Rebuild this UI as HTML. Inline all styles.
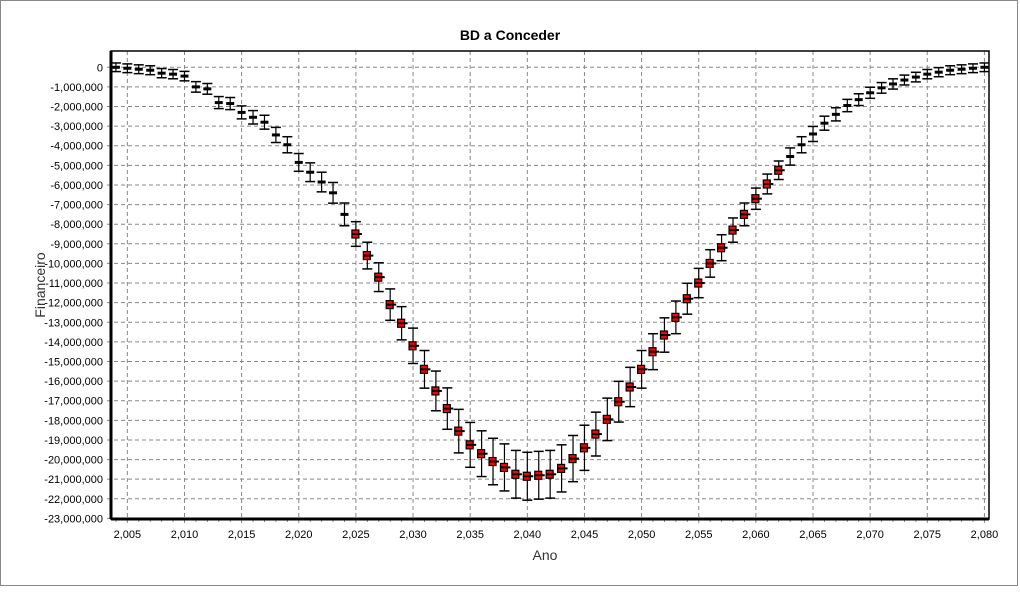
<!DOCTYPE html>
<html><head><meta charset="utf-8"><style>
html,body{margin:0;padding:0;background:#fff;}
body{width:1020px;height:588px;overflow:hidden;font-family:"Liberation Sans",sans-serif;}
</style></head><body>
<svg id="chart" width="1020" height="588" xmlns="http://www.w3.org/2000/svg" font-family="Liberation Sans, sans-serif">
<rect x="0.5" y="0.5" width="1017" height="585" fill="#fff" stroke="#888"/>
<text x="510" y="40" text-anchor="middle" font-size="14" font-weight="bold">BD a Conceder</text>
<text x="545" y="560" text-anchor="middle" font-size="14" fill="#333">Ano</text>
<text transform="translate(45,285) rotate(-90)" text-anchor="middle" font-size="14" fill="#333">Financeiro</text>
<g id="grid"></g>
<g id="marks"></g>
<rect x="111" y="51" width="878" height="468" fill="none" stroke="#000" stroke-width="1.5"/>
<line x1="111" y1="519" x2="989" y2="519" stroke="#000" stroke-width="3"/>
<line x1="111" y1="51" x2="111" y2="519" stroke="#000" stroke-width="3"/>
</svg>
<script>
const years = [];
for (let y = 2004; y <= 2080; y++) years.push(y);
const values = [0,-0.05,-0.1,-0.15,-0.3,-0.35,-0.45,-1.0,-1.1,-1.8,-1.85,-2.3,-2.55,-2.8,-3.45,-3.95,-4.85,-5.35,-5.85,-6.4,-7.5,-8.5,-9.6,-10.7,-12.1,-13.05,-14.2,-15.4,-16.5,-17.4,-18.55,-19.25,-19.7,-20.1,-20.4,-20.75,-20.85,-20.8,-20.75,-20.45,-19.95,-19.4,-18.7,-17.95,-17.05,-16.3,-15.4,-14.5,-13.65,-12.75,-11.8,-11.0,-10.0,-9.2,-8.3,-7.5,-6.7,-5.95,-5.25,-4.55,-3.95,-3.4,-2.85,-2.4,-1.95,-1.65,-1.3,-1.05,-0.85,-0.65,-0.5,-0.35,-0.25,-0.15,-0.1,-0.05,0];
const xTicks = [2005,2010,2015,2020,2025,2030,2035,2040,2045,2050,2055,2060,2065,2070,2075,2080];
const yTicks = [0,-1,-2,-3,-4,-5,-6,-7,-8,-9,-10,-11,-12,-13,-14,-15,-16,-17,-18,-19,-20,-21,-22,-23];
const redRange = [2025, 2062];

const X0=111,X1=989,Y0=51,Y1=519, XMIN=2003.57, XMAX=2080.4, YMAX=0.83, YMIN=-23.03;
const sx = v => X0 + (v-XMIN)/(XMAX-XMIN)*(X1-X0);
const sy = v => Y0 + (YMAX-v)/(YMAX-YMIN)*(Y1-Y0);
const NS="http://www.w3.org/2000/svg";
const svg=document.getElementById('chart'), grid=document.getElementById('grid'), marks=document.getElementById('marks');
function mk(tag, attrs, parent){const e=document.createElementNS(NS,tag);for(const k in attrs)e.setAttribute(k,attrs[k]);parent.appendChild(e);return e;}
const fmt = n => n===0 ? "0" : "-" + (Math.abs(n)*1000000).toLocaleString('en-US');

xTicks.forEach(t=>{
  const x=sx(t);
  const l=mk('line',{x1:x,y1:Y0,x2:x,y2:Y1+4,stroke:'#888','stroke-dasharray':'4,3'},grid);
  
  
  const tx=mk('text',{x:x,y:538,'text-anchor':'middle','font-size':'11'},svg);
  tx.textContent=t.toLocaleString('en-US');
  
  
});
for(let t=2004;t<=2080;t++){ if(t%5){ const x=sx(t); mk('line',{x1:x,y1:Y1,x2:x,y2:Y1+3,stroke:'#888'},grid);} }
yTicks.forEach(t=>{
  const y=sy(t);
  const l=mk('line',{x1:X0-4,y1:y,x2:X1,y2:y,stroke:'#888','stroke-dasharray':'4,3'},grid);
  
  
  const tx=mk('text',{x:103,y:y+4,'text-anchor':'end','font-size':'11'},svg);
  tx.textContent=fmt(t);
  
  
});

years.forEach((yr,i)=>{
  const v=values[i]; const x=sx(yr), y=sy(v);
  const e=Math.abs(v)*0.048+0.22;
  const g=mk('g',{},marks);
  
  
  const yt=sy(v+e), yb=sy(v-e);
  mk('line',{x1:x,y1:yt,x2:x,y2:yb,stroke:'#000','stroke-width':1.2},g);
  mk('line',{x1:x-5,y1:yt,x2:x+5,y2:yt,stroke:'#000','stroke-width':1.5},g);
  mk('line',{x1:x-5,y1:yb,x2:x+5,y2:yb,stroke:'#000','stroke-width':1.5},g);
  if(yr>=redRange[0] && yr<=redRange[1]){
    mk('rect',{x:x-4,y:y-4,width:7,height:8,fill:'#f00',stroke:'#000','stroke-width':1.2},g);
    mk('line',{x1:x-4,y1:y,x2:x+6,y2:y,stroke:'#000','stroke-width':2},g);
  } else {
    mk('line',{x1:x-4,y1:y,x2:x+4,y2:y,stroke:'#000','stroke-width':3},g);
  }
});
</script>
</body></html>
